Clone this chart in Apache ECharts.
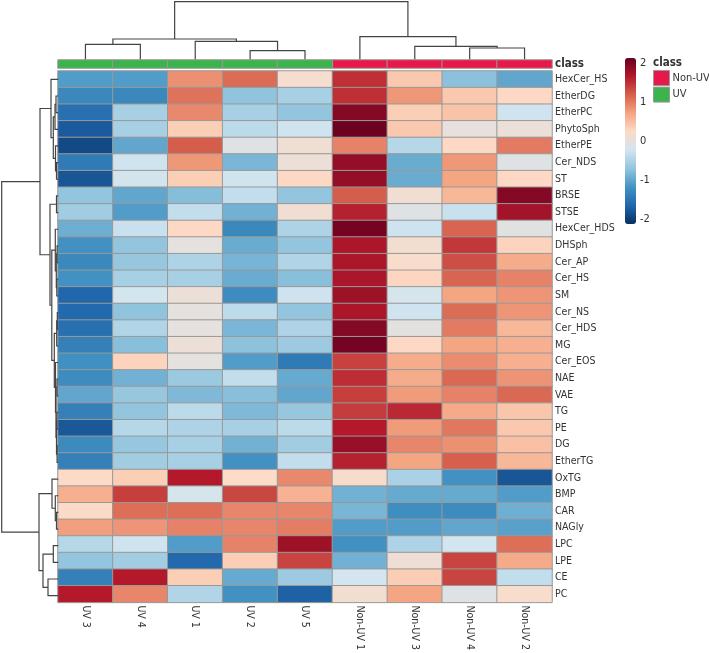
<!DOCTYPE html>
<html>
<head>
<meta charset="utf-8">
<script src="https://cdn.jsdelivr.net/npm/echarts@6/dist/echarts.min.js"></script>
<style>
html, body { margin: 0; padding: 0; background: #fff; }
#chart { width: 709px; height: 653px; }
</style>
</head>
<body>
<div id="chart"></div>
<script>
// columns in dendrogram order
var samples = ['UV 3', 'UV 4', 'UV 1', 'UV 2', 'UV 5', 'Non-UV 1', 'Non-UV 3', 'Non-UV 4', 'Non-UV 2'];
var sampleClass = ['UV', 'UV', 'UV', 'UV', 'UV', 'Non-UV', 'Non-UV', 'Non-UV', 'Non-UV'];

// rows in dendrogram order
var lipids = ['HexCer_HS', 'EtherDG', 'EtherPC', 'PhytoSph', 'EtherPE', 'Cer_NDS', 'ST', 'BRSE',
    'STSE', 'HexCer_HDS', 'DHSph', 'Cer_AP', 'Cer_HS', 'SM', 'Cer_NS', 'Cer_HDS',
    'MG', 'Cer_EOS', 'NAE', 'VAE', 'TG', 'PE', 'DG', 'EtherTG',
    'OxTG', 'BMP', 'CAR', 'NAGly', 'LPC', 'LPE', 'CE', 'PC'];

// scaled values, one array per sample (same order as lipids)
var uv3 = [-1.1, -1.3, -1.55, -1.75, -1.9, -1.45, -1.8, -0.7,
    -0.6, -0.93, -1.2, -1.3, -1.2, -1.65, -1.63, -1.55,
    -1.38, -1.22, -1.27, -1.0, -1.38, -1.78, -1.28, -1.38,
    0.22, 0.62, 0.22, 0.75, -0.45, -0.7, -1.38, 1.65];
var uv4 = [-1.1, -1.3, -0.55, -0.55, -1.0, -0.25, -0.2, -1.0,
    -1.1, -0.3, -0.7, -0.68, -0.55, -0.22, -0.72, -0.48,
    -0.77, 0.3, -0.9, -0.68, -0.7, -0.45, -0.68, -0.6,
    0.35, 1.4, 1.08, 0.82, -0.25, -0.6, 1.65, 0.92];
var uv1 = [0.85, 1.05, 0.9, 0.35, 1.2, 0.8, 0.35, -0.78,
    -0.35, 0.25, -0.03, -0.5, -0.55, 0.05, -0.03, -0.03,
    0.05, -0.03, -0.65, -0.82, -0.4, -0.5, -0.55, -0.55,
    1.65, -0.18, 1.08, 0.95, -1.1, -1.63, 0.35, -0.48];
var uv2 = [1.1, -0.72, -0.55, -0.4, -0.1, -0.85, -0.25, -0.35,
    -0.9, -1.3, -0.95, -0.87, -0.95, -1.27, -0.38, -0.85,
    -0.74, -1.1, -0.35, -0.77, -0.82, -0.55, -0.9, -1.2,
    0.23, 1.35, 0.92, 0.92, 0.95, 0.35, -0.97, -1.2];
var uv5 = [0.15, -0.55, -0.7, -0.25, 0.1, 0.05, 0.25, -0.7,
    0.1, -0.5, -0.7, -0.48, -0.77, -0.26, -0.7, -0.5,
    -0.63, -1.45, -0.97, -1.0, -0.68, -0.4, -0.6, -0.35,
    0.9, 0.6, 0.92, 0.98, 1.78, 1.37, -0.63, -1.7];
var nonUv1 = [1.5, 1.5, 1.95, 2.1, 0.95, 1.85, 1.85, 1.2,
    1.6, 2.05, 1.7, 1.7, 1.7, 1.78, 1.7, 1.95,
    2.05, 1.38, 1.52, 1.4, 1.42, 1.65, 1.82, 1.6,
    0.17, -0.9, -0.86, -1.1, -1.22, -0.9, -0.22, 0.12];
var nonUv3 = [0.4, 0.8, 0.35, 0.4, -0.45, -0.95, -0.95, 0.1,
    -0.1, -0.27, 0.12, 0.18, 0.28, -0.18, -0.25, -0.05,
    0.25, 0.65, 0.65, 0.78, 1.55, 0.78, 0.92, 0.7,
    -0.53, -0.97, -1.24, -1.1, -0.5, 0.08, 0.36, 0.7];
var nonUv4 = [-0.75, 0.4, 0.45, 0.0, 0.25, 0.8, 0.7, 0.55,
    -0.3, 1.15, 1.45, 1.3, 1.15, 0.7, 1.1, 1.0,
    0.7, 0.88, 1.12, 0.95, 0.66, 1.02, 0.85, 1.18,
    -1.2, -0.97, -1.26, -1.0, -0.22, 1.37, 1.37, -0.1];
var nonUv2 = [-1.0, 0.25, -0.25, 0.05, 1.0, -0.1, 0.25, 1.95,
    1.75, -0.08, 0.3, 0.65, 0.95, 0.82, 0.82, 0.55,
    0.62, 0.62, 0.83, 1.12, 0.43, 0.4, 0.47, 0.55,
    -1.8, -1.1, -0.92, -1.05, 1.08, 0.66, -0.35, 0.18];

// hclust style merges: negative = leaf (1-based, display order), positive = earlier merge
var colMerge = [[-4, -5, 8.6], [-8, -9, 11.3], [-7, 2, 13.0], [-1, -2, 15.0],
    [-3, 1, 18.0], [4, 5, 20.3], [-6, 3, 22.6], [6, 7, 57.6]];
var rowMerge = [[-15, -16, 1.0], [-11, -12, 1.2], [-23, -24, 1.2], [-19, -20, 1.3],
    [-21, -22, 1.4], [-13, -14, 1.5], [1, -17, 1.6], [-6, -7, 1.8],
    [-8, -9, 1.8], [5, 3, 1.8], [-27, -28, 1.8], [2, 6, 2.0],
    [-2, -3, 2.3], [4, 10, 2.3], [-5, 8, 2.8], [-18, 14, 2.8],
    [-10, 12, 3.0], [-26, 11, 3.0], [13, -4, 3.3], [7, 16, 4.0],
    [19, 15, 5.0], [-29, -30, 5.0], [-25, 18, 6.3], [17, 20, 6.5],
    [-1, 21, 7.3], [9, 24, 8.3], [-31, -32, 10.3], [22, 27, 15.3],
    [25, 26, 18.3], [23, 28, 19.3], [29, 30, 56.6]];

var colorTicks = [-2, -1, 0, 1, 2];

var rdbu = ['#053061', '#2166ac', '#4393c3', '#92c5de', '#d1e5f0',
    '#fddbc7', '#f4a582', '#d6604d', '#b2182b', '#67001f'];
var classColors = { 'Non-UV': '#e8184a', 'UV': '#3cb44b' };
var textColor = '#333';
var lineColor = '#444';
var font = "'DejaVu Sans Condensed', 'Liberation Sans', sans-serif";

var sampleValues = [uv3, uv4, uv1, uv2, uv5, nonUv1, nonUv3, nonUv4, nonUv2];

function makeHeatData() {
    var rows = [];
    for (var c = 0; c < samples.length; c++) {
        for (var r = 0; r < lipids.length; r++) {
            rows.push([c, r, sampleValues[c][r]]);
        }
    }
    return rows;
}

function classData(name) {
    var rows = [];
    for (var c = 0; c < samples.length; c++) {
        if (sampleClass[c] == name) rows.push([c, 0, 1]);
    }
    return rows;
}

// each branch: [height, posA, heightA, posB, heightB]
function dendroBranches(merge) {
    var pos = [], hgt = [], out = [];
    function p(ref) { return ref < 0 ? -ref - 1 : pos[ref - 1]; }
    function h(ref) { return ref < 0 ? 0 : hgt[ref - 1]; }
    for (var i = 0; i < merge.length; i++) {
        var m = merge[i];
        var a = p(m[0]), b = p(m[1]);
        out.push([m[2], a, h(m[0]), b, h(m[1])]);
        pos.push((a + b) / 2);
        hgt.push(m[2]);
    }
    return out;
}

function colBranch(params, api) {
    var h = api.value(0), a = api.value(1), ha = api.value(2), b = api.value(3), hb = api.value(4);
    return {
        type: 'polyline',
        shape: { points: [api.coord([a, ha]), api.coord([a, h]), api.coord([b, h]), api.coord([b, hb])] },
        style: { stroke: lineColor, fill: null, lineWidth: 1.2 }
    };
}

function rowBranch(params, api) {
    var h = api.value(0), a = api.value(1), ha = api.value(2), b = api.value(3), hb = api.value(4);
    return {
        type: 'polyline',
        shape: { points: [api.coord([ha, a]), api.coord([h, a]), api.coord([h, b]), api.coord([hb, b])] },
        style: { stroke: lineColor, fill: null, lineWidth: 1.2 }
    };
}

var hidden = { show: false };
var chart = echarts.init(document.getElementById('chart'));

chart.setOption({
    animation: false,
    backgroundColor: '#fff',
    textStyle: { fontFamily: font },
    title: {
        text: 'class', left: 653, top: 57, padding: 0,
        textStyle: { fontFamily: font, fontSize: 11.5, fontWeight: 'bold', color: textColor }
    },
    legend: {
        data: ['Non-UV', 'UV'], orient: 'vertical', left: 653, top: 70, padding: 0,
        itemWidth: 16, itemHeight: 15, itemGap: 0.6, icon: 'rect', selectedMode: false,
        itemStyle: { borderColor: '#999', borderWidth: 1 },
        textStyle: { fontFamily: font, fontSize: 11, color: textColor, padding: [0, 0, 0, -2] }
    },
    visualMap: {
        type: 'continuous', seriesIndex: 0, min: -2.13, max: 2.13,
        left: 625, top: 58, itemWidth: 11, itemHeight: 166, padding: 0,
        calculable: false, hoverLink: false,
        inRange: { color: rdbu }
    },
    grid: [
        { left: 58, top: 71, width: 494, height: 533 },
        { left: 58, top: 60, width: 494, height: 8 },
        { left: 58, top: 1.7, width: 494, height: 57.6 },
        { left: 1.7, top: 71, width: 56.6, height: 533 },
        { left: 625, top: 58, width: 11, height: 166 }
    ],
    xAxis: [
        {
            type: 'category', gridIndex: 0, data: samples,
            axisLine: hidden, axisTick: hidden, splitLine: hidden,
            axisLabel: { rotate: -90, margin: 3, fontSize: 10.5, color: textColor, fontFamily: font }
        },
        { type: 'category', gridIndex: 1, data: samples, show: false },
        { type: 'value', gridIndex: 2, min: -0.5, max: samples.length - 0.5, show: false },
        { type: 'value', gridIndex: 3, min: 0, max: 56.6, inverse: true, show: false },
        { type: 'value', gridIndex: 4, min: 0, max: 1, show: false }
    ],
    yAxis: [
        {
            type: 'category', gridIndex: 0, data: lipids, inverse: true, position: 'right',
            axisLine: hidden, axisTick: hidden, splitLine: hidden,
            axisLabel: { margin: 3, fontSize: 10.5, color: textColor, fontFamily: font }
        },
        {
            type: 'category', gridIndex: 1, data: ['class'], position: 'right',
            axisLine: hidden, axisTick: hidden,
            axisLabel: { margin: 3, fontSize: 11.5, fontWeight: 'bold', color: textColor, fontFamily: font }
        },
        { type: 'value', gridIndex: 2, min: 0, max: 57.6, show: false },
        { type: 'value', gridIndex: 3, min: -0.5, max: lipids.length - 0.5, inverse: true, show: false },
        {
            type: 'value', gridIndex: 4, min: -2.13, max: 2.13, position: 'right',
            axisLine: hidden, axisTick: hidden, splitLine: hidden,
            axisLabel: { customValues: colorTicks, margin: 4, fontSize: 11, color: textColor, fontFamily: font }
        }
    ],
    series: [
        {
            type: 'heatmap', xAxisIndex: 0, yAxisIndex: 0, data: makeHeatData(),
            itemStyle: { borderColor: '#999', borderWidth: 1 },
            emphasis: { disabled: true }
        },
        {
            name: 'Non-UV', type: 'heatmap', xAxisIndex: 1, yAxisIndex: 1, data: classData('Non-UV'),
            itemStyle: { color: classColors['Non-UV'], borderColor: '#999', borderWidth: 1 },
            emphasis: { disabled: true }
        },
        {
            name: 'UV', type: 'heatmap', xAxisIndex: 1, yAxisIndex: 1, data: classData('UV'),
            itemStyle: { color: classColors['UV'], borderColor: '#999', borderWidth: 1 },
            emphasis: { disabled: true }
        },
        {
            type: 'custom', xAxisIndex: 2, yAxisIndex: 2, clip: false, silent: true,
            renderItem: colBranch, data: dendroBranches(colMerge)
        },
        {
            type: 'custom', xAxisIndex: 3, yAxisIndex: 3, clip: false, silent: true,
            renderItem: rowBranch, data: dendroBranches(rowMerge)
        }
    ]
});
</script>
</body>
</html>
